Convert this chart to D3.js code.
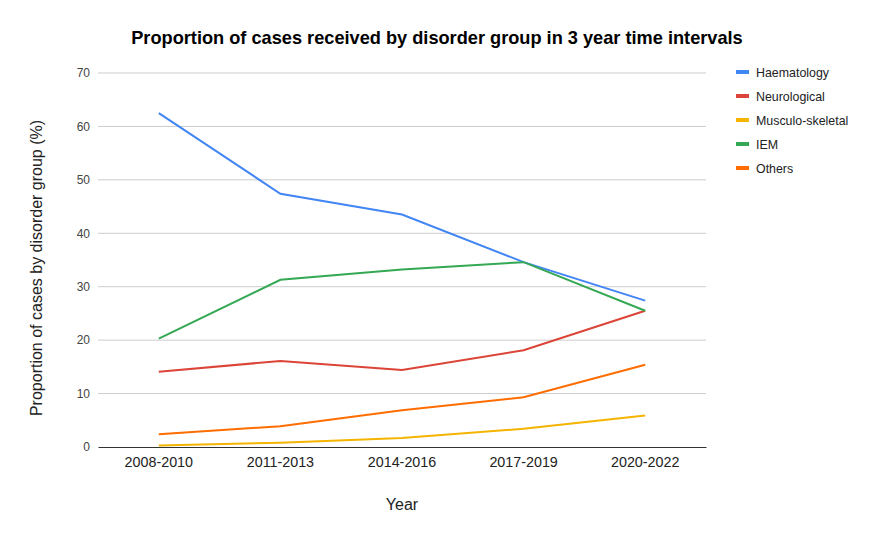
<!DOCTYPE html>
<html>
<head>
<meta charset="utf-8">
<script src="https://cdn.jsdelivr.net/npm/d3@7"></script>
<style>
  body { margin: 0; background: #fff; }
  text { font-family: "Liberation Sans", Arial, sans-serif; }
</style>
</head>
<body>
<div id="container"></div>
<script>
const periods = ["2008-2010", "2011-2013", "2014-2016", "2017-2019", "2020-2022"]
const haematology = [62.5, 47.4, 43.5, 34.6, 27.4]
const neurological = [14.1, 16.1, 14.4, 18.1, 25.5]
const musculo = [0.3, 0.8, 1.7, 3.4, 5.9]
const iem = [20.3, 31.3, 33.2, 34.6, 25.5]
const others = [2.4, 3.9, 6.9, 9.3, 15.4]
const yTicks = [0, 10, 20, 30, 40, 50, 60, 70]

const series = [
  {name: "Haematology", values: haematology, color: "#4285F4"},
  {name: "Neurological", values: neurological, color: "#DB4437"},
  {name: "Musculo-skeletal", values: musculo, color: "#F4B400"},
  {name: "IEM", values: iem, color: "#34A853"},
  {name: "Others", values: others, color: "#FF6D01"}
]

const width = 876
const height = 541
const plotLeft = 98, plotRight = 706, plotTop = 73, plotBottom = 447

const svg = d3.select("#container").append("svg")
  .attr("width", width)
  .attr("height", height)

const xScale = d3.scaleBand()
  .domain(periods)
  .range([plotLeft, plotRight])

const yScale = d3.scaleLinear()
  .domain([0, 70])
  .range([plotBottom, plotTop])

// gridlines
svg.append("g")
  .selectAll("line")
  .data(yTicks.filter(t => t > 0))
  .enter()
  .append("line")
  .attr("x1", plotLeft)
  .attr("x2", plotRight)
  .attr("y1", d => yScale(d))
  .attr("y2", d => yScale(d))
  .attr("stroke", "#cccccc")
  .attr("stroke-width", 1)

const yAxis = d3.axisLeft(yScale).tickValues(yTicks).tickSize(0).tickPadding(8)
const gy = svg.append("g")
  .attr("transform", `translate(${plotLeft}, 0)`)
  .call(yAxis)
gy.select(".domain").remove()
gy.selectAll("text").attr("font-size", 12).attr("fill", "#444")

const xAxis = d3.axisBottom(xScale).tickSize(0).tickPadding(10)
const gx = svg.append("g")
  .attr("transform", `translate(0, ${plotBottom})`)
  .call(xAxis)
gx.select(".domain").attr("stroke", "#333").attr("stroke-width", 1)
gx.selectAll("text").attr("font-size", 14.3).attr("fill", "#222")

const line = d3.line()
  .x((d, i) => xScale(periods[i]) + xScale.bandwidth() / 2)
  .y(d => yScale(d))

svg.append("g")
  .selectAll("path")
  .data(series)
  .enter()
  .append("path")
  .attr("d", d => line(d.values))
  .attr("fill", "none")
  .attr("stroke", d => d.color)
  .attr("stroke-width", 2)

// title
svg.append("text")
  .attr("x", 437)
  .attr("y", 44)
  .attr("text-anchor", "middle")
  .attr("font-size", 18.2)
  .attr("font-weight", "bold")
  .attr("fill", "#000")
  .text("Proportion of cases received by disorder group in 3 year time intervals")

svg.append("text")
  .attr("x", 402)
  .attr("y", 510)
  .attr("text-anchor", "middle")
  .attr("font-size", 16)
  .attr("fill", "#222")
  .text("Year")

svg.append("text")
  .attr("transform", "translate(42, 268) rotate(-90)")
  .attr("text-anchor", "middle")
  .attr("font-size", 16)
  .attr("fill", "#222")
  .text("Proportion of cases by disorder group (%)")

// legend
const legend = svg.append("g")
  .selectAll("g")
  .data(series)
  .enter()
  .append("g")
  .attr("transform", (d, i) => `translate(736, ${72 + i * 24})`)

legend.append("line")
  .attr("x1", 0).attr("x2", 13)
  .attr("y1", 0).attr("y2", 0)
  .attr("stroke", d => d.color)
  .attr("stroke-width", 4)

legend.append("text")
  .attr("x", 20)
  .attr("y", 4.5)
  .attr("font-size", 12.4)
  .attr("fill", "#222")
  .text(d => d.name)
</script>
</body>
</html>
